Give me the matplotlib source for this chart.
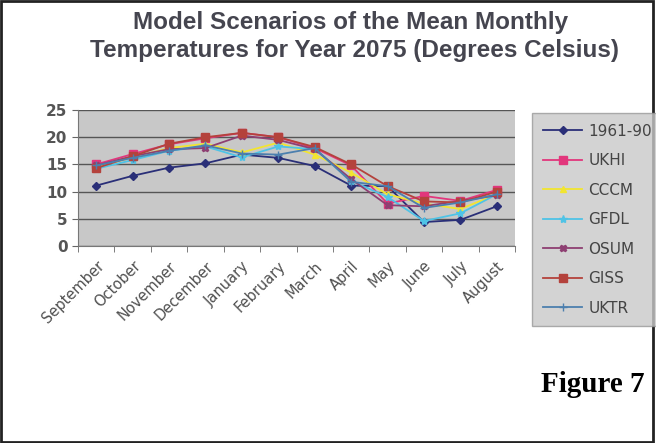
import numpy as np
import matplotlib.pyplot as plt
from matplotlib.patches import Rectangle

months = ['September', 'October', 'November', 'December', 'January', 'February',
          'March', 'April', 'May', 'June', 'July', 'August']

base_1961_90 = [11.1, 12.9, 14.4, 15.2, 16.8, 16.2, 14.7, 11.1, 11.0, 4.4, 4.8, 7.3]
ukhi = [15.0, 16.9, 18.7, 19.8, 20.8, 20.0, 18.0, 14.8, 7.8, 9.2, 8.3, 10.3]
cccm = [14.5, 16.3, 18.0, 18.8, 17.2, 19.0, 16.8, 13.5, 9.5, 7.8, 6.8, 9.5]
gfdl = [14.2, 15.8, 17.5, 18.3, 16.3, 18.3, 17.8, 12.0, 9.0, 4.6, 6.0, 9.5]
osum = [14.8, 16.5, 17.8, 18.0, 20.3, 19.5, 17.8, 12.3, 7.5, 7.3, 8.3, 9.3]
giss = [14.3, 16.5, 18.8, 20.0, 20.8, 20.0, 18.2, 15.0, 11.0, 8.2, 8.0, 10.0]
uktr = [14.8, 16.2, 17.5, 18.5, 17.0, 16.8, 18.0, 11.8, 11.0, 7.0, 8.0, 9.5]

series = [
    ('1961-90', base_1961_90, '#2a2f78', 'D', 4),
    ('UKHI', ukhi, '#e2367c', 's', 6),
    ('CCCM', cccm, '#f2e530', '^', 5),
    ('GFDL', gfdl, '#4fc3e6', '*', 6),
    ('OSUM', osum, '#8e3f72', 'X', 5),
    ('GISS', giss, '#b4423c', 's', 6),
    ('UKTR', uktr, '#4c7fae', '+', 6),
]

fig = plt.figure(figsize=(6.56, 4.43), dpi=100)
fig.patch.set_facecolor('white')

ax = fig.add_axes([78 / 656, 1 - 246 / 443, (515 - 78) / 656, (246 - 110) / 443])
ax.set_facecolor('#c8c8c8')

x = np.arange(len(months))
for name, vals, col, mk, ms in series:
    ax.plot(x, vals, color=col, marker=mk, markersize=ms, linewidth=1.3,
            markeredgecolor=col, label=name)

ax.set_xlim(-0.5, len(months) - 0.5)
ax.set_ylim(0, 25)
ax.set_yticks(range(0, 26, 5))
ax.yaxis.grid(True, color='#555555', linewidth=1.0)
ax.set_axisbelow(True)

ax.set_xticks(x)
ax.set_xticklabels(months, rotation=45, ha='right', rotation_mode='anchor',
                   fontsize=10.5, color='#505050', family='DejaVu Sans')
ax.set_xticks(np.arange(-0.5, len(months)), minor=True)
ax.tick_params(axis='x', which='major', length=0, pad=9)
ax.tick_params(axis='x', which='minor', length=4, color='#666666')
ax.tick_params(axis='y', length=4, color='#666666', labelsize=11,
               labelcolor='#555555')
for lbl in ax.get_yticklabels():
    lbl.set_fontweight('bold')

for side in ['top', 'right']:
    ax.spines[side].set_visible(False)
for side in ['left', 'bottom']:
    ax.spines[side].set_color('#777777')

fig.text(0.535, 1 - 22 / 443, 'Model Scenarios of the Mean Monthly', ha='center',
         va='center', fontsize=17.5, fontweight='bold', color='#45454f',
         family='Liberation Sans')
fig.text(0.54, 1 - 51 / 443, 'Temperatures for Year 2075 (Degrees Celsius)',
         ha='center', va='center', fontsize=17.5, fontweight='bold', color='#45454f',
         family='Liberation Sans')

leg = fig.legend(loc='upper left', bbox_to_anchor=(532 / 656, 1 - 113 / 443),
                 borderaxespad=0, fontsize=11, frameon=True, fancybox=False,
                 handlelength=2.6, handletextpad=0.4, labelspacing=0.95,
                 borderpad=0.7, labelcolor='#444444')
leg.get_frame().set_facecolor('#c8c8c8')
leg.get_frame().set_edgecolor('#999999')

fig.text(645 / 656, 1 - 385 / 443, 'Figure 7', ha='right', va='center',
         fontsize=21, fontweight='bold', family='Liberation Serif', color='black')

# dark frame around the whole figure
fig.patches.append(Rectangle((0.002, 0.003), 0.993, 0.994, transform=fig.transFigure,
                             fill=False, edgecolor='#222222', linewidth=2))

fig.savefig('out.png', dpi=100)
